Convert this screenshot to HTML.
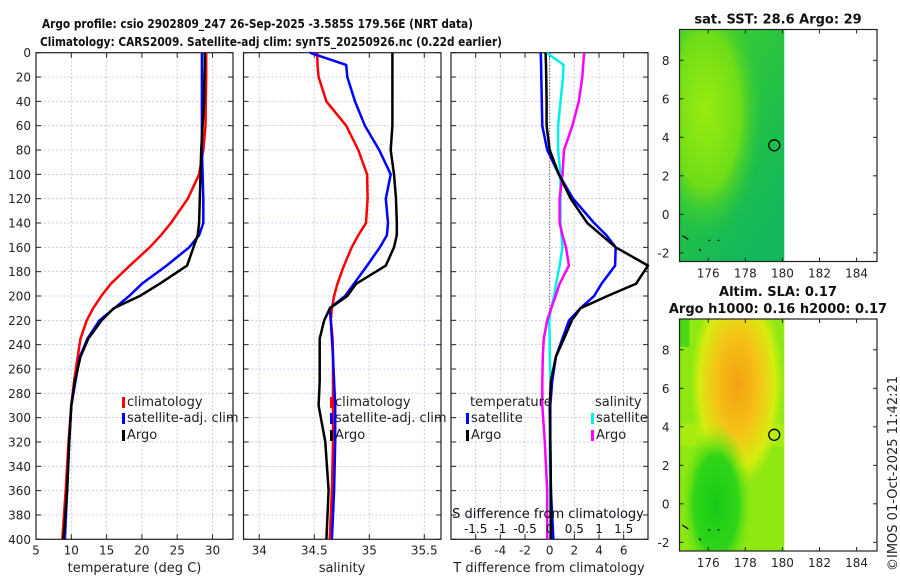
<!DOCTYPE html>
<html><head><meta charset="utf-8">
<style>
html,body{margin:0;padding:0;background:#fff;}
svg{display:block;font-family:"DejaVu Sans","Liberation Sans",sans-serif;}
</style></head>
<body>
<svg id="fig" width="900" height="580" viewBox="0 0 900 580" xmlns="http://www.w3.org/2000/svg">
<defs>
  <radialGradient id="sstBlob" cx="0.25" cy="0.35" r="0.55">
    <stop offset="0" stop-color="#99ec10"/>
    <stop offset="0.6" stop-color="#6fdd18"/>
    <stop offset="1" stop-color="#2dc83a" stop-opacity="0"/>
  </radialGradient>
  <linearGradient id="sstBase" x1="0" y1="0" x2="0.6" y2="1">
    <stop offset="0" stop-color="#3fcf2a"/>
    <stop offset="1" stop-color="#12b85a"/>
  </linearGradient>
  <radialGradient id="slaOrange" cx="0.55" cy="0.28" r="0.45">
    <stop offset="0" stop-color="#f2a010"/>
    <stop offset="0.45" stop-color="#f6c018"/>
    <stop offset="0.8" stop-color="#d8ec10"/>
    <stop offset="1" stop-color="#bff00f" stop-opacity="0"/>
  </radialGradient>
  <radialGradient id="slaGreen" cx="0.35" cy="0.8" r="0.35">
    <stop offset="0" stop-color="#18cc18"/>
    <stop offset="0.6" stop-color="#30d418"/>
    <stop offset="1" stop-color="#7ee612" stop-opacity="0"/>
  </radialGradient>
</defs>
<g id="layer"></g>
</svg>
<script>
// ---------- DATA ----------
const depths = [0,10,20,40,60,80,100,120,140,150,160,175,190,200,210,220,235,250,270,290,320,360,400];
const tempArgo = [28.9,28.9,28.85,28.8,28.6,28.4,28.3,28.2,28.1,27.9,27.3,26.4,22.5,19.7,16.0,14.3,12.4,11.3,10.5,10.0,9.7,9.4,8.9];
const tempSat  = [28.5,28.5,28.5,28.5,28.5,28.5,28.6,28.7,28.7,28.1,26.7,23.5,20.0,18.2,16.1,14.0,12.3,11.2,10.6,10.0,9.7,9.4,9.1];
const tempClim = [29.1,29.1,29.1,29.05,29.0,28.7,28.1,26.5,24.1,22.7,21.1,18.3,15.6,14.25,13.1,12.2,11.3,10.9,10.4,10.0,9.6,9.2,8.73];
const salArgo = [35.21,35.21,35.21,35.21,35.21,35.195,35.225,35.243,35.25,35.25,35.225,35.15,34.88,34.8,34.643,34.59,34.55,34.55,34.55,34.54,34.6,34.63,34.61];
const salSat  = [34.46,34.79,34.8,34.87,34.96,35.09,35.195,35.15,35.17,35.16,35.097,34.98,34.86,34.78,34.64,34.65,34.66,34.67,34.68,34.69,34.69,34.68,34.66];
const salClim = [34.527,34.53,34.54,34.61,34.79,34.9,34.98,34.985,34.97,34.9,34.84,34.77,34.71,34.68,34.66,34.65,34.667,34.67,34.67,34.67,34.67,34.66,34.64];
const dTSat  = [-0.73,-0.7,-0.68,-0.64,-0.6,-0.2,0.75,1.9,3.6,4.6,5.35,5.3,4.2,3.6,2.5,1.57,1.03,0.5,0.2,0.05,0.05,0.1,0.3];
const dTArgo = [-0.33,-0.3,-0.28,-0.25,-0.25,0.0,0.75,1.7,3.05,4.2,5.35,7.97,7.0,4.68,2.5,1.8,1.16,0.5,0.1,0.0,0.05,0.1,0.1];
const dSSat  = [-0.06,0.28,0.27,0.22,0.17,0.17,0.22,0.22,0.22,0.24,0.26,0.2,0.13,0.09,0.03,-0.01,0.0,0.0,0.02,0.01,0.0,0.01,0.02];
const dSArgo = [0.7,0.68,0.66,0.59,0.46,0.29,0.26,0.2,0.2,0.26,0.33,0.39,0.2,0.12,0.03,-0.05,-0.12,-0.14,-0.15,-0.15,-0.1,-0.05,-0.05];
const depthTicks = [0,20,40,60,80,100,120,140,160,180,200,220,240,260,280,300,320,340,360,380,400];
const tempTicks = [5,10,15,20,25,30];
const salTicks = [34,34.5,35,35.5];
const dTTicks = [-6,-4,-2,0,2,4,6];
const dSTicks = [-1.5,-1,-0.5,0,0.5,1,1.5];
const lonTicks = [176,178,180,182,184];
const latTicks = [-2,0,2,4,6,8];
const argoLon = 179.56, argoLat = 3.585;

// ---------- helpers ----------
const NS = "http://www.w3.org/2000/svg";
const layer = document.getElementById('layer');
function mk(tag, attrs, parent){ const e=document.createElementNS(NS,tag); for(const k in attrs) e.setAttribute(k,attrs[k]); (parent||layer).appendChild(e); return e; }
function txt(s, attrs, parent){ const e=mk('text',attrs,parent); e.textContent=s; return e; }

const PY0=52.7, PY1=539.3;
const yD = d => PY0 + d*(PY1-PY0)/400;
const panels = [
  {name:'temperature-panel', x0:36, x1:233, v0:5, v1:32.9},
  {name:'salinity-panel', x0:243.5, x1:441, v0:33.857, v1:35.652},
  {name:'difference-panel', x0:451, x1:648, v0:-8.0, v1:7.97}
];
const sc = p => v => p.x0 + (v-p.v0)*(p.x1-p.x0)/(p.v1-p.v0);
const xT = sc(panels[0]), xS = sc(panels[1]), xDT = sc(panels[2]);
const xDS = v => xDT(v*4);

function frame(p, xticks, xf, labels){
  const g = mk('g',{});
  
  
  depthTicks.forEach(d=>{ if(d>0&&d<400){ const l=mk('line',{x1:p.x0,x2:p.x1,y1:yD(d),y2:yD(d),stroke:'#b8c4e6','stroke-width':0.8,'stroke-dasharray':'2,2'},g);
      }});
  xticks.forEach(v=>{ const x=xf(v); if(x>p.x0+1&&x<p.x1-1){ const l=mk('line',{x1:x,x2:x,y1:PY0,y2:PY1,stroke:'#b8c4e6','stroke-width':0.8,'stroke-dasharray':'2,2'},g);
      }});
  depthTicks.forEach(d=>{ mk('line',{x1:p.x0,x2:p.x0+5,y1:yD(d),y2:yD(d),stroke:'#222'},g); mk('line',{x1:p.x1,x2:p.x1-5,y1:yD(d),y2:yD(d),stroke:'#222'},g); });
  xticks.forEach(v=>{ const x=xf(v); mk('line',{x1:x,x2:x,y1:PY1,y2:PY1-5,stroke:'#222'},g); mk('line',{x1:x,x2:x,y1:PY0,y2:PY0+5,stroke:'#222'},g);
    if(labels){ const t=txt(String(v),{x:x,y:PY1+15,'font-size':12,'text-anchor':'middle',fill:'#222'},g);
        }});
  const r=mk('rect',{x:p.x0,y:PY0,width:p.x1-p.x0,height:PY1-PY0,fill:'none',stroke:'#222','stroke-width':1.2},g);
   
  return g;
}
function series(g, xs, xf, color, name, w){
  const pts = depths.map((d,i)=>xf(xs[i]).toFixed(1)+','+yD(d).toFixed(1)).join(' ');
  const pl = mk('polyline',{points:pts,fill:'none',stroke:color,'stroke-width':w||2.5,'stroke-linejoin':'round'},g);
  
  
}
function legendItem(g,x,y,color,label,name){
  const b=mk('rect',{x:x,y:y-9,width:3,height:11,fill:color},g);
   
  const t=txt(label,{x:x+5,y:y,'font-size':13,fill:'#222'},g);
   
}

// titles
let t1=txt('Argo profile: csio 2902809_247 26-Sep-2025 -3.585S 179.56E (NRT data)',{x:42,y:28,'font-size':12,'font-weight':'bold','font-family':'"DejaVu Sans",sans-serif',textLength:431,lengthAdjust:'spacingAndGlyphs',fill:'#111'});
 
let t2=txt('Climatology: CARS2009. Satellite-adj clim: synTS_20250926.nc (0.22d earlier)',{x:40,y:46,'font-size':12,'font-weight':'bold','font-family':'"DejaVu Sans",sans-serif',textLength:462,lengthAdjust:'spacingAndGlyphs',fill:'#111'});
 

depthTicks.forEach(d=>{ const t=txt(String(d),{x:31,y:yD(d)+4.5,'font-size':12,'text-anchor':'end',fill:'#222'});
    });

// panel 1
const g1 = frame(panels[0], tempTicks, xT, true);
series(g1,tempClim,xT,'#ff0000','temp-climatology-line');
series(g1,tempSat,xT,'#0000ff','temp-satellite-line');
series(g1,tempArgo,xT,'#000000','temp-argo-line');
legendItem(g1,122,406,'#ff0000','climatology','legend-climatology');
legendItem(g1,122,422,'#0000ff','satellite-adj. clim','legend-satellite');
legendItem(g1,122,439,'#000000','Argo','legend-argo');
let xl1=txt('temperature (deg C)',{x:134.5,y:572,'font-size':13,'text-anchor':'middle',fill:'#222'});
 

// panel 2
const g2 = frame(panels[1], salTicks, xS, true);
series(g2,salClim,xS,'#ff0000','sal-climatology-line');
series(g2,salSat,xS,'#0000ff','sal-satellite-line');
series(g2,salArgo,xS,'#000000','sal-argo-line');
legendItem(g2,330,406,'#ff0000','climatology','legend-climatology');
legendItem(g2,330,422,'#0000ff','satellite-adj. clim','legend-satellite');
legendItem(g2,330,439,'#000000','Argo','legend-argo');
let xl2=txt('salinity',{x:342,y:572,'font-size':13,'text-anchor':'middle',fill:'#222'});
 

// panel 3
const g3 = frame(panels[2], dTTicks, xDT, true);
let zl=mk('line',{x1:xDT(0),x2:xDT(0),y1:PY0,y2:PY1,stroke:'#333','stroke-width':1,'stroke-dasharray':'1,2'},g3);
 
series(g3,dSSat,xDS,'#00eeee','sal-diff-satellite-line');
series(g3,dSArgo,xDS,'#ff00ff','sal-diff-argo-line');
series(g3,dTSat,xDT,'#0000ff','temp-diff-satellite-line');
series(g3,dTArgo,xDT,'#000000','temp-diff-argo-line');
let lt=txt('temperature',{x:470,y:406,'font-size':13,fill:'#222'},g3);
 
let ls=txt('salinity',{x:595,y:406,'font-size':13,fill:'#222'},g3);
 
legendItem(g3,466,422,'#0000ff','satellite','legend-temp-satellite');
legendItem(g3,466,439,'#000000','Argo','legend-temp-argo');
legendItem(g3,591,422,'#00eeee','satellite','legend-sal-satellite');
legendItem(g3,591,439,'#ff00ff','Argo','legend-sal-argo');
let sdt=txt('S difference from climatology',{x:548,y:518,'font-size':13,'text-anchor':'middle',fill:'#111'},g3);
 
dSTicks.forEach(v=>{ const t=txt(String(v),{x:xDS(v),y:533,'font-size':12,'text-anchor':'middle',fill:'#111'},g3);
    });
let tdt=txt('T difference from climatology',{x:549,y:572,'font-size':13,'text-anchor':'middle',fill:'#222'});
 

// ---------- maps ----------
const MX0=679.5, MX1=877, LON0=174.45, LON1=185.1;
const mx = lon => MX0 + (lon-LON0)*(MX1-MX0)/(LON1-LON0);
function mapPanel(name, top, title, fillFn){
  const LAT1=9.6, LAT0=-2.45, bot=top+232;
  const my = lat => top + (LAT1-lat)*(bot-top)/(LAT1-LAT0);
  const g=mk('g',{});
   
  fillFn(g, mx(LON0), top, mx(180.1)-mx(LON0), bot-top);
  const cst=mk('path',{d:`M${mx(174.6)} ${my(-1.1)} l6 4 M${mx(175.5)} ${my(-1.8)} l2 2 M${mx(176.0)} ${my(-1.35)} l2 0 M${mx(176.5)} ${my(-1.35)} l2 0`,stroke:'#000','stroke-width':1.2,fill:'none'},g);
   
  const c=mk('circle',{cx:mx(argoLon),cy:my(argoLat),r:5.5,fill:'none',stroke:'#000','stroke-width':1.3},g);
   
  latTicks.forEach(v=>{ const y=my(v); mk('line',{x1:MX0,x2:MX0+4,y1:y,y2:y,stroke:'#222'},g); mk('line',{x1:MX1,x2:MX1-4,y1:y,y2:y,stroke:'#222'},g);
    const t=txt(String(v),{x:MX0-10,y:y+4.5,'font-size':12,'text-anchor':'end',fill:'#222'},g);
      });
  lonTicks.forEach(v=>{ const x=mx(v); mk('line',{x1:x,x2:x,y1:bot,y2:bot-4,stroke:'#222'},g); mk('line',{x1:x,x2:x,y1:top,y2:top+4,stroke:'#222'},g);
    const t=txt(String(v),{x:x,y:bot+16,'font-size':12,'text-anchor':'middle',fill:'#222'},g);
      });
  const r=mk('rect',{x:MX0,y:top,width:MX1-MX0,height:bot-top,fill:'none',stroke:'#222','stroke-width':1.2},g);
   
  title.forEach((s,i)=>{ const t=txt(s,{x:778,y:top-6-(title.length-1-i)*17,'font-size':13,'font-weight':'bold','text-anchor':'middle',fill:'#111'},g);
      });
}
mapPanel('sst-map', 29.5, ['sat. SST: 28.6 Argo: 29'], (g,x,y,w,h)=>{
  const a=mk('rect',{x:x,y:y,width:w,height:h,fill:'url(#sstBase)'},g);
   
  mk('rect',{x:x,y:y,width:w,height:h,fill:'url(#sstBlob)'},g);
});
mapPanel('sla-map', 319, ['Altim. SLA: 0.17','Argo h1000: 0.16 h2000: 0.17'], (g,x,y,w,h)=>{
  const a=mk('rect',{x:x,y:y,width:w,height:h,fill:'#8ee812'},g);
   
  mk('rect',{x:x,y:y+h*0.45,width:w,height:h*0.1,fill:'#b8ee10',opacity:0.6},g);
  mk('rect',{x:x,y:y,width:w,height:h,fill:'url(#slaOrange)'},g);
  mk('rect',{x:x,y:y,width:w,height:h,fill:'url(#slaGreen)'},g);
  mk('rect',{x:x,y:y,width:10,height:h*0.12,fill:'#3cd21a',opacity:0.8},g);
});
let cp=txt('©IMOS 01-Oct-2025 11:42:21',{x:0,y:0,'font-size':13,fill:'#222',transform:'translate(897,571) rotate(-90)'});
 
</script>
</body></html>
